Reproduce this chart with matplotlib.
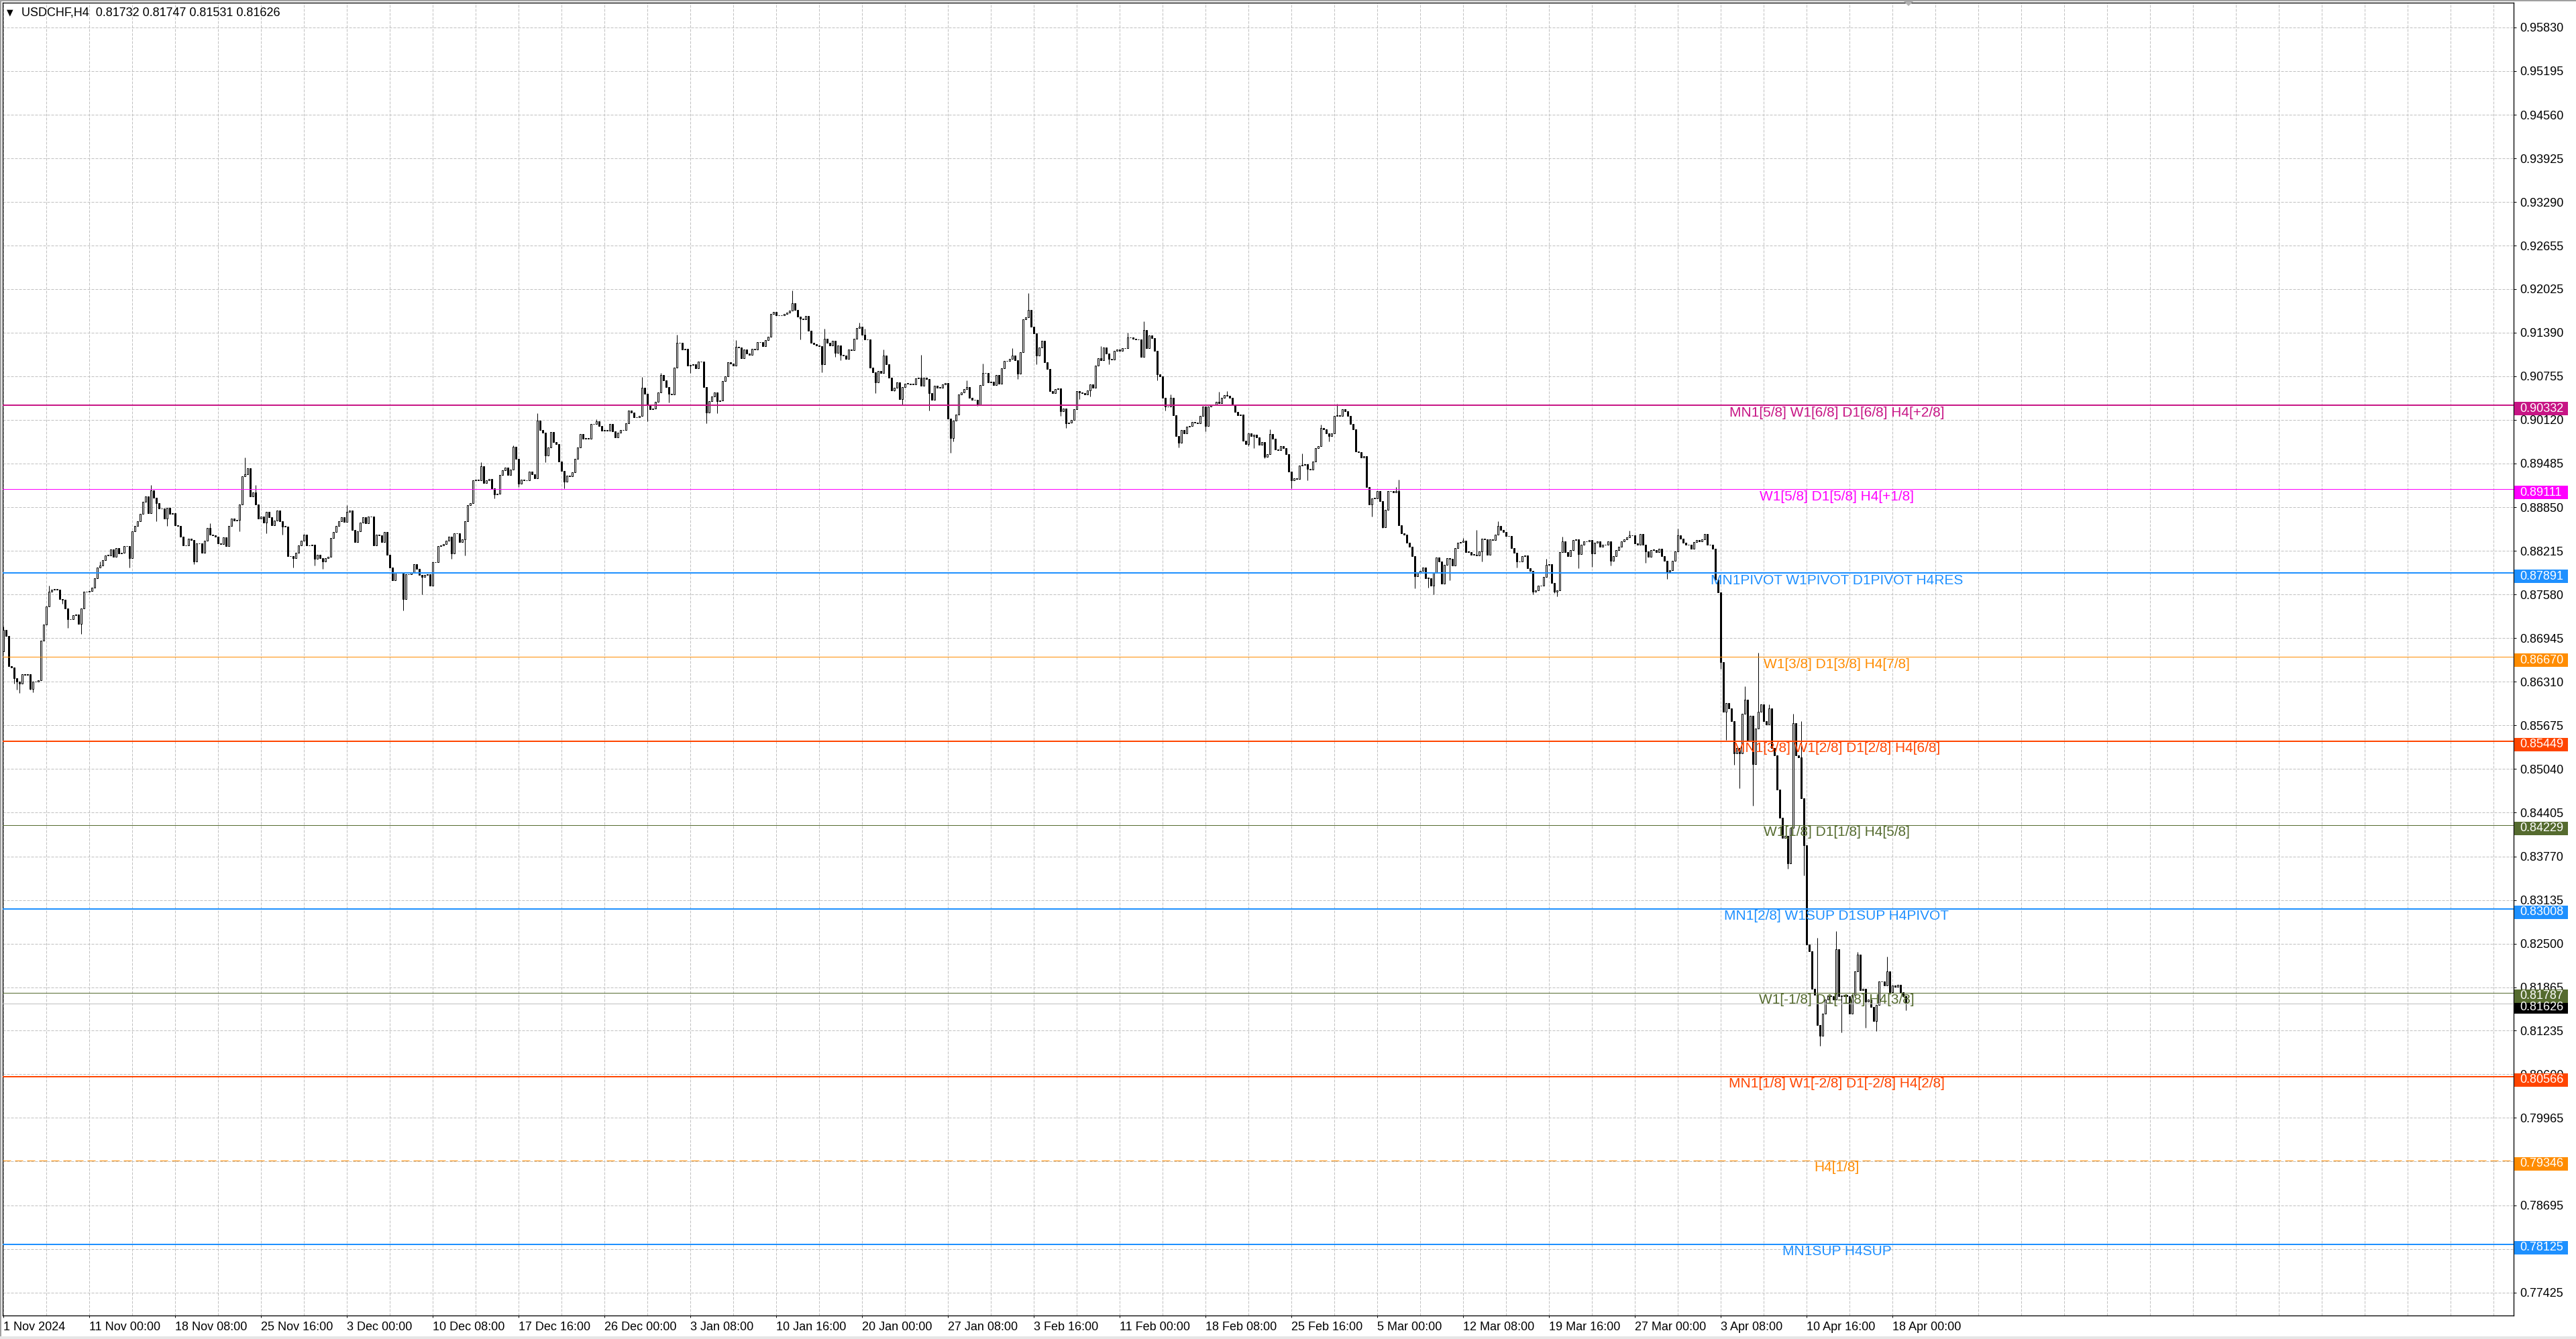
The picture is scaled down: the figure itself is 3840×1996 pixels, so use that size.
import matplotlib
matplotlib.use("Agg")
import matplotlib.pyplot as plt
import matplotlib.transforms as mtransforms
from matplotlib.patches import Rectangle, Polygon

plt.rcParams['font.family'] = ['Liberation Sans', 'DejaVu Sans']

# ---------------- data ----------------
symbol = "USDCHF,H4"
last_ohlc = [0.81732, 0.81747, 0.81531, 0.81626]
first_open = 0.8675
current_price = 0.81626

closes_nov = [
    0.8706, 0.8698, 0.8654, 0.8652, 0.8636, 0.8631, 0.8628, 0.8642, 0.8641, 0.8642,
    0.8621, 0.8631, 0.8631, 0.8633, 0.8691, 0.8714, 0.8741, 0.8762, 0.8765, 0.8766,
    0.8765, 0.8751, 0.8750, 0.8738, 0.8722, 0.8722, 0.8728, 0.8729, 0.8715, 0.8738,
    0.8762, 0.8762, 0.8763, 0.8768, 0.8782, 0.8797, 0.8800, 0.8808, 0.8815, 0.8815,
    0.8824, 0.8813, 0.8826, 0.8818, 0.8819, 0.8828, 0.8828, 0.8811, 0.8850, 0.8858,
    0.8865, 0.8875, 0.8893, 0.8901, 0.8876, 0.8909, 0.8899, 0.8891, 0.8883, 0.8883,
    0.8868, 0.8884, 0.8875, 0.8876, 0.8859, 0.8858, 0.8842, 0.8829, 0.8829, 0.8839,
    0.8837, 0.8806, 0.8832, 0.8832, 0.8819, 0.8836, 0.8855, 0.8845, 0.8844, 0.8842,
    0.8832, 0.8831, 0.8841, 0.8828, 0.8858, 0.8868, 0.8866, 0.8867, 0.8889, 0.8930,
    0.8933, 0.8942, 0.8901, 0.8907, 0.8889, 0.8868, 0.8871, 0.8863, 0.8878, 0.8870,
    0.8859, 0.8866, 0.8880, 0.8865, 0.8857, 0.8857, 0.8814, 0.8814, 0.8811, 0.8819,
    0.8829, 0.8836, 0.8845, 0.8829, 0.8829, 0.8830, 0.8810, 0.8816, 0.8811, 0.8806,
    0.8811, 0.8813,
]
closes_dec = [
    0.8840, 0.8849, 0.8858, 0.8865, 0.8870, 0.8864, 0.8878, 0.8880, 0.8852, 0.8834,
    0.8850, 0.8863, 0.8870, 0.8862, 0.8871, 0.8871, 0.8829, 0.8845, 0.8844, 0.8834,
    0.8849, 0.8816, 0.8797, 0.8779, 0.8790, 0.8790, 0.8790, 0.8751, 0.8787, 0.8787,
    0.8790, 0.8802, 0.8795, 0.8786, 0.8784, 0.8786, 0.8787, 0.8771, 0.8805, 0.8805,
    0.8828, 0.8829, 0.8831, 0.8836, 0.8842, 0.8818, 0.8847, 0.8847, 0.8834, 0.8838,
    0.8865, 0.8888, 0.8891, 0.8924, 0.8925, 0.8924, 0.8945, 0.8920, 0.8924, 0.8926,
    0.8912, 0.8904, 0.8905, 0.8932, 0.8939, 0.8943, 0.8932, 0.8940, 0.8973, 0.8955,
    0.8919, 0.8925, 0.8924, 0.8924, 0.8937, 0.8933, 0.8927, 0.9011, 0.8997, 0.8993,
    0.8960, 0.8972, 0.8994, 0.8980, 0.8977, 0.8951, 0.8938, 0.8922, 0.8931, 0.8930,
    0.8936, 0.8955, 0.8972, 0.8991, 0.8985, 0.8986, 0.8985, 0.9006, 0.9006, 0.9010,
    0.9003, 0.8996, 0.8997, 0.8996, 0.9006, 0.8995, 0.8987, 0.8993, 0.8997, 0.8997,
    0.9007, 0.9026, 0.9023, 0.9016, 0.9016, 0.9018, 0.9059, 0.9050, 0.9034, 0.9028,
    0.9029, 0.9038, 0.9052, 0.9077, 0.9070, 0.9060,
]
closes_jan = [
    0.9050, 0.9049, 0.9088, 0.9124, 0.9124, 0.9114, 0.9115, 0.9091, 0.9092, 0.9093,
    0.9087, 0.9097, 0.9097, 0.9060, 0.9023, 0.9039, 0.9046, 0.9052, 0.9039, 0.9040,
    0.9069, 0.9075, 0.9096, 0.9094, 0.9091, 0.9118, 0.9117, 0.9102, 0.9114, 0.9109,
    0.9107, 0.9115, 0.9114, 0.9125, 0.9125, 0.9119, 0.9128, 0.9133, 0.9166, 0.9169,
    0.9164, 0.9164, 0.9164, 0.9166, 0.9168, 0.9171, 0.9182, 0.9172, 0.9162, 0.9159,
    0.9158, 0.9163, 0.9142, 0.9124, 0.9122, 0.9120, 0.9119, 0.9093, 0.9130, 0.9124,
    0.9120, 0.9127, 0.9110, 0.9120, 0.9107, 0.9106, 0.9101, 0.9114, 0.9113, 0.9130,
    0.9146, 0.9148, 0.9136, 0.9129, 0.9129, 0.9088, 0.9081, 0.9067, 0.9083, 0.9080,
    0.9106, 0.9093, 0.9073, 0.9055, 0.9059, 0.9067, 0.9042, 0.9060, 0.9065, 0.9065,
    0.9064, 0.9064, 0.9072, 0.9073, 0.9062, 0.9073, 0.9071, 0.9051, 0.9041, 0.9062,
    0.9059, 0.9059, 0.9064, 0.9066, 0.9014, 0.8986, 0.9011, 0.9020, 0.9049, 0.9052,
    0.9057, 0.9060, 0.9044, 0.9041, 0.9041, 0.9033, 0.9063, 0.9080, 0.9080, 0.9067,
    0.9068, 0.9063, 0.9077, 0.9065, 0.9087, 0.9098, 0.9098, 0.9101, 0.9106, 0.9099,
    0.9079, 0.9111,
]
closes_feb = [
    0.9158, 0.9161, 0.9172, 0.9148, 0.9138, 0.9106, 0.9117, 0.9127, 0.9096, 0.9086,
    0.9054, 0.9051, 0.9057, 0.9058, 0.9025, 0.9029, 0.9007, 0.9008, 0.9012, 0.9028,
    0.9054, 0.9052, 0.9051, 0.9049, 0.9055, 0.9064, 0.9059, 0.9091, 0.9102, 0.9099,
    0.9117, 0.9109, 0.9101, 0.9100, 0.9112, 0.9114, 0.9112, 0.9116, 0.9116, 0.9132,
    0.9132, 0.9130, 0.9129, 0.9129, 0.9104, 0.9143, 0.9116, 0.9135, 0.9131, 0.9112,
    0.9078, 0.9075, 0.9044, 0.9031, 0.9031, 0.9044, 0.9019, 0.8989, 0.8979, 0.8997,
    0.8992, 0.9002, 0.9003, 0.9009, 0.9008, 0.9007, 0.9018, 0.9031, 0.9003, 0.9031,
    0.9034, 0.9034, 0.9038, 0.9036, 0.9044, 0.9048, 0.9047, 0.9044, 0.9034, 0.9024,
    0.9019, 0.9020, 0.8982, 0.8977, 0.8992, 0.8989, 0.8990, 0.8987, 0.8976, 0.8980,
    0.8958, 0.8962, 0.8991, 0.8985, 0.8969, 0.8968, 0.8974, 0.8971, 0.8962, 0.8937,
    0.8924, 0.8927, 0.8926, 0.8946, 0.8947, 0.8948, 0.8941, 0.8940, 0.8951, 0.8971,
    0.8974, 0.9000, 0.8998, 0.8992, 0.8989, 0.8992, 0.9018, 0.9019, 0.9018, 0.9028,
]
closes_mar = [
    0.9025, 0.9018, 0.9006, 0.8998, 0.8966, 0.8965, 0.8957, 0.8959, 0.8914, 0.8889,
    0.8898, 0.8898, 0.8908, 0.8894, 0.8856, 0.8881, 0.8908, 0.8908, 0.8907, 0.8908,
    0.8859, 0.8847, 0.8845, 0.8833, 0.8827, 0.8814, 0.8785, 0.8789, 0.8792, 0.8797,
    0.8782, 0.8782, 0.8771, 0.8789, 0.8812, 0.8806, 0.8774, 0.8801, 0.8811, 0.8810,
    0.8800, 0.8826, 0.8833, 0.8834, 0.8836, 0.8820, 0.8820, 0.8816, 0.8816, 0.8815,
    0.8821, 0.8839, 0.8838, 0.8816, 0.8838, 0.8837, 0.8845, 0.8858, 0.8852, 0.8849,
    0.8843, 0.8843, 0.8826, 0.8819, 0.8806, 0.8806, 0.8814, 0.8815, 0.8796, 0.8792,
    0.8762, 0.8764, 0.8771, 0.8771, 0.8784, 0.8801, 0.8802, 0.8775, 0.8762, 0.8764,
    0.8820, 0.8835, 0.8820, 0.8814, 0.8823, 0.8837, 0.8838, 0.8817, 0.8830, 0.8835,
    0.8835, 0.8837, 0.8818, 0.8833, 0.8835, 0.8827, 0.8830, 0.8830, 0.8835, 0.8807,
    0.8814, 0.8823, 0.8827, 0.8835, 0.8838, 0.8841, 0.8844, 0.8844, 0.8832, 0.8830,
    0.8846, 0.8830, 0.8821, 0.8813, 0.8823, 0.8823, 0.8820, 0.8825, 0.8814, 0.8807,
    0.8791, 0.8793, 0.8807, 0.8821, 0.8844, 0.8839,
]
closes_apr = [
    0.8833, 0.8830, 0.8830, 0.8825, 0.8834, 0.8837, 0.8835, 0.8838, 0.8846, 0.8830,
    0.8830, 0.8825, 0.8780, 0.8761, 0.8660, 0.8587, 0.8600, 0.8592, 0.8574, 0.8527,
    0.8535, 0.8527, 0.8584, 0.8605, 0.8545, 0.8582, 0.8511, 0.8563, 0.8587, 0.8598,
    0.8574, 0.8569, 0.8592, 0.8535, 0.8524, 0.8474, 0.8433, 0.8404, 0.8407, 0.8367,
    0.8419, 0.8571, 0.8524, 0.8521, 0.8461, 0.8393, 0.8249, 0.8239, 0.8184, 0.8176,
    0.8132, 0.8116, 0.8148, 0.8169, 0.8174, 0.8174, 0.8169, 0.8242, 0.8174, 0.8174,
    0.8176, 0.8174, 0.8148, 0.8176, 0.8210, 0.8234, 0.8182, 0.8184, 0.8166, 0.8169,
    0.8158, 0.8137, 0.8161, 0.8195, 0.8195, 0.8189, 0.8210, 0.8179, 0.8189, 0.8187,
    0.8190, 0.8179, 0.81732, 0.81626,
]

wick_high = {
    0: 0.8711, 2: 0.8681, 17: 0.8771, 36: 0.8806, 55: 0.8917, 77: 0.8862, 90: 0.8957,
    94: 0.8917, 128: 0.8888, 178: 0.8950, 190: 0.8975, 199: 0.9022, 221: 0.9013,
    238: 0.9074, 245: 0.9080, 251: 0.9136, 273: 0.9128, 294: 0.9200, 306: 0.9145,
    319: 0.9153, 321: 0.9145, 328: 0.9114, 342: 0.9107, 359: 0.9070, 365: 0.9094,
    376: 0.9116, 382: 0.9196, 409: 0.9119, 419: 0.9139, 425: 0.9155, 435: 0.9049,
    453: 0.9053, 456: 0.9054, 472: 0.8998, 484: 0.8963, 491: 0.9005, 497: 0.9035,
    519: 0.8914, 520: 0.8925, 544: 0.8840, 549: 0.8852, 557: 0.8865, 575: 0.8810,
    581: 0.8842, 606: 0.8851, 624: 0.8854, 649: 0.8624, 654: 0.8673, 658: 0.8598,
    667: 0.8584, 670: 0.8574, 676: 0.8258, 683: 0.8268, 691: 0.8238, 702: 0.8231,
    709: 0.81747,
}
wick_low = {
    4: 0.8628, 5: 0.8620, 6: 0.8615, 10: 0.8620, 11: 0.8616, 22: 0.8745, 24: 0.8709,
    29: 0.8701, 47: 0.8797, 57: 0.8865, 61: 0.8858, 71: 0.8802, 88: 0.8850, 98: 0.8847,
    104: 0.8845, 108: 0.8797, 116: 0.8800, 119: 0.8795, 146: 0.8779, 149: 0.8735,
    156: 0.8758, 167: 0.8810, 172: 0.8815, 183: 0.8898, 192: 0.8914, 202: 0.8950,
    209: 0.8912, 240: 0.9010, 248: 0.9037, 256: 0.9080, 262: 0.9007, 266: 0.9022,
    297: 0.9129, 305: 0.9081, 310: 0.9104, 312: 0.9099, 325: 0.9051, 332: 0.9054,
    335: 0.9033, 345: 0.9026, 353: 0.8964, 354: 0.8981, 363: 0.9032, 378: 0.9071,
    385: 0.9093, 394: 0.9018, 396: 0.9000, 401: 0.9042, 405: 0.9046, 412: 0.9093,
    430: 0.9070, 433: 0.9026, 438: 0.8972, 448: 0.8995, 464: 0.8974, 466: 0.8971,
    470: 0.8956, 480: 0.8912, 486: 0.8924, 494: 0.8981, 510: 0.8871, 514: 0.8855,
    526: 0.8767, 531: 0.8768, 533: 0.8758, 537: 0.8775, 539: 0.8779, 551: 0.8806,
    564: 0.8797, 570: 0.8758, 578: 0.8760, 579: 0.8755, 587: 0.8796, 592: 0.8798,
    599: 0.8800, 612: 0.8804, 620: 0.8781, 640: 0.8650, 642: 0.8546, 645: 0.8510,
    647: 0.8476, 652: 0.8451, 665: 0.8359, 671: 0.8349, 677: 0.8101, 685: 0.8121,
    694: 0.8128, 698: 0.8123, 709: 0.81531,
}

date_labels = [
    "1 Nov 2024", "11 Nov 00:00", "18 Nov 08:00", "25 Nov 16:00", "3 Dec 00:00",
    "10 Dec 08:00", "17 Dec 16:00", "26 Dec 00:00", "3 Jan 08:00", "10 Jan 16:00",
    "20 Jan 00:00", "27 Jan 08:00", "3 Feb 16:00", "11 Feb 00:00", "18 Feb 08:00",
    "25 Feb 16:00", "5 Mar 00:00", "12 Mar 08:00", "19 Mar 16:00", "27 Mar 00:00",
    "3 Apr 08:00", "10 Apr 16:00", "18 Apr 00:00",
]

price_ticks = [
    0.95830, 0.95195, 0.94560, 0.93925, 0.93290, 0.92655, 0.92025, 0.91390, 0.90755,
    0.90120, 0.89485, 0.88850, 0.88215, 0.87580, 0.86945, 0.86310, 0.85675, 0.85040,
    0.84405, 0.83770, 0.83135, 0.82500, 0.81865, 0.81235, 0.80600, 0.79965, 0.79330,
    0.78695, 0.78060, 0.77425,
]

level_prices = [0.90332, 0.89111, 0.87891, 0.86670, 0.85449, 0.84229, 0.83008,
                0.81787, 0.80566, 0.79346, 0.78125]
level_labels = [
    "MN1[5/8] W1[6/8] D1[6/8] H4[+2/8]",
    "W1[5/8] D1[5/8] H4[+1/8]",
    "MN1PIVOT W1PIVOT D1PIVOT H4RES",
    "W1[3/8] D1[3/8] H4[7/8]",
    "MN1[3/8] W1[2/8] D1[2/8] H4[6/8]",
    "W1[1/8] D1[1/8] H4[5/8]",
    "MN1[2/8] W1SUP D1SUP H4PIVOT",
    "W1[-1/8] D1[-1/8] H4[3/8]",
    "MN1[1/8] W1[-2/8] D1[-2/8] H4[2/8]",
    "H4[1/8]",
    "MN1SUP H4SUP",
]

# ---------------- style ----------------
level_colors = ['#C71585', '#FF00FF', '#1E90FF', '#FF8C00', '#FF4500', '#556B2F',
                '#1E90FF', '#556B2F', '#FF4500', '#FF8C00', '#1E90FF']
level_width_px = [2, 1, 2, 1, 2, 1, 2, 1, 2, 1, 2]
level_dashed = [False] * 9 + [True, False]

W, H, DPI = 3840, 1996, 100
PX = 72.0 / DPI            # one pixel in points
ax_l, ax_r, ax_t, ax_b = 4, 3747, 4, 1961
ymin, ymax = 0.77090, 0.96190
xmin, xmax = -0.25, 935.5
grid_color = '#C0C0C0'

closes = closes_nov + closes_dec + closes_jan + closes_feb + closes_mar + closes_apr
opens = [first_open] + closes[:-1]
n = len(closes)

fig = plt.figure(figsize=(W / DPI, H / DPI), dpi=DPI, facecolor='white')
ax = fig.add_axes([ax_l / W, 1 - ax_b / H, (ax_r - ax_l) / W, (ax_b - ax_t) / H])
ax.set_xlim(xmin, xmax)
ax.set_ylim(ymin, ymax)
ax.set_facecolor('white')

dash = (0, (4, 2))
for p in price_ticks:
    ax.axhline(p, color=grid_color, lw=PX, ls=dash, zorder=0.5)
for xb in range(0, 936, 16):
    ax.axvline(xb, color=grid_color, lw=PX, ls=dash, zorder=0.5)

# candles
xs = list(range(n))
body_lo = [min(o, c) for o, c in zip(opens, closes)]
body_hi = [max(o, c) for o, c in zip(opens, closes)]
hi = [max(body_hi[i], wick_high.get(i, body_hi[i])) for i in xs]
lo = [min(body_lo[i], wick_low.get(i, body_lo[i])) for i in xs]
ax.vlines(xs, body_hi, hi, colors='black', lw=PX, zorder=2)
ax.vlines(xs, lo, body_lo, colors='black', lw=PX, zorder=2)
face = ['white' if c >= o else 'black' for o, c in zip(opens, closes)]
heights = [max(h - l, 0.00003) for h, l in zip(body_hi, body_lo)]
ax.bar(xs, heights, bottom=body_lo, width=0.55, color=face, edgecolor='black',
       linewidth=PX, zorder=2.2)

# current price line
ax.axhline(current_price, color='#C0C0C0', lw=PX, zorder=2.6)

# level lines + labels
blend = mtransforms.blended_transform_factory(ax.transAxes, ax.transData)
ax_w = ax_r - ax_l
def frac(px):
    return (px - ax_l) / ax_w

for p, lab, col, wpx, dsh in zip(level_prices, level_labels, level_colors,
                                  level_width_px, level_dashed):
    ax.axhline(p, color=col, lw=wpx * PX, ls=(0, (12, 6)) if dsh else '-', zorder=3)
    ax.annotate(lab, xy=(frac(2738), p), xycoords=blend, xytext=(0, -11),
                textcoords='offset pixels', ha='center', va='center', color=col,
                fontsize=15, zorder=4)

# axes / ticks
for s in ax.spines.values():
    s.set_color('black')
    s.set_linewidth(PX * 1.3)
ax.yaxis.tick_right()
ax.set_yticks(price_ticks)
ax.set_yticklabels([f"{p:.5f}" for p in price_ticks])
ax.tick_params(axis='y', direction='out', length=3, width=PX, pad=3.5,
               labelsize=13, colors='black')
ax.set_xticks([32 * k for k in range(len(date_labels))])
ax.set_xticklabels(date_labels, ha='left')
ax.tick_params(axis='x', direction='out', length=2, width=PX, pad=4.5,
               labelsize=13, colors='black')

# price boxes on right axis
ppp = (ax_b - ax_t) / (ymax - ymin)
box_h = 20 / ppp
box_dy = 5 / ppp
def price_box(p, col):
    ax.add_patch(Rectangle((frac(3748), p - box_dy - box_h / 2), 80 / ax_w, box_h,
                           transform=blend, facecolor=col, edgecolor='none',
                           clip_on=False, zorder=5))
    ax.text(frac(3756), p - box_dy, f"{p:.5f}", transform=blend, color='white',
            fontsize=13, va='center', ha='left', clip_on=False, zorder=6)

price_box(current_price, 'black')
for p, col in zip(level_prices, level_colors):
    price_box(p, col)

# header
fig.text(15 / W, 1 - 19 / H, '\u25BC', fontsize=9, family='DejaVu Sans',
         ha='center', va='center', color='black')
fig.text(32 / W, 1 - 19 / H,
         f"{symbol}  " + " ".join(f"{v:.5f}" for v in last_ohlc),
         fontsize=13, ha='left', va='center', color='black')

# window frame
fig.patches.append(Rectangle((0, 1 - 2 / H), 1, 2 / H, transform=fig.transFigure,
                             facecolor='#A0A0A0', edgecolor='none'))
fig.patches.append(Rectangle((0, 0), 2 / W, 1, transform=fig.transFigure,
                             facecolor='#A0A0A0', edgecolor='none'))
fig.patches.append(Rectangle((0, 0), 1, 4 / H, transform=fig.transFigure,
                             facecolor='#E6E6E6', edgecolor='none'))
# chart shift marker
sx = ax_l + 4 * (n + 0.25)
fig.patches.append(Polygon([((sx - 7) / W, 1 - 2 / H), ((sx + 7) / W, 1 - 2 / H),
                            (sx / W, 1 - 9 / H)], closed=True,
                           transform=fig.transFigure, facecolor='#B0B0B0',
                           edgecolor='none'))

fig.savefig("out.png", dpi=DPI, facecolor='white')
print(n)
